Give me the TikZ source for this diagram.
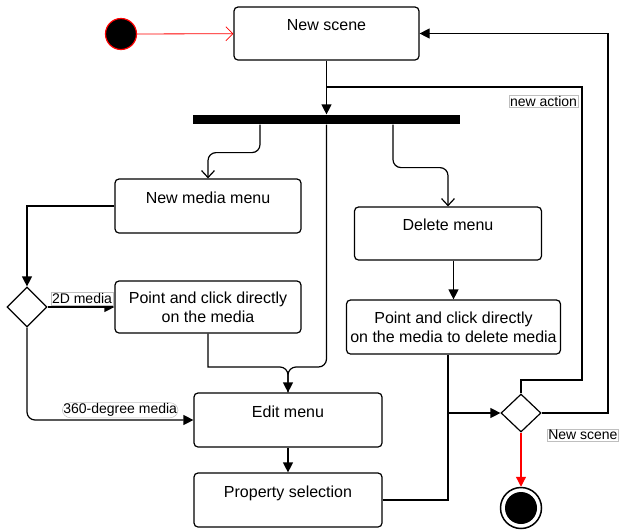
\documentclass[tikz,border=0pt]{standalone}
\usepackage{fontspec}
\setmainfont{Liberation Sans}
\usetikzlibrary{arrows.meta, shapes.geometric}

\begin{document}
\begin{tikzpicture}[x=1pt, y=-1pt, line width=1.2pt,
  activity/.style={draw, rounded corners=4pt, inner sep=0pt, align=center,
    font=\fontsize{16}{19}\selectfont},
  toptext/.style={text height=12pt, text depth=18pt},
  decision/.style={diamond, draw, minimum width=40pt, minimum height=40pt, inner sep=0pt},
  guard/.style={draw=black!25, line width=0.5pt, fill=white, inner sep=1pt,
    font=\fontsize{14}{16}\selectfont},
  flow/.style={-{Triangle[length=10pt,width=10pt]}},
  fork/.style={-{Straight Barb[length=7pt,width=13pt]}, rounded corners=8pt}]
\useasboundingbox (0,0) rectangle (619,531);

\node[circle, draw=red, fill=black, minimum size=31pt, inner sep=0pt] (start) at (121,34) {};
\node[activity, toptext, minimum width=185pt, minimum height=53pt] (scene) at (326.5,33.5) {New scene};
\node[fill=black, minimum width=267pt, minimum height=9pt, inner sep=0pt] (bar) at (326.5,119.5) {};
\node[activity, toptext, minimum width=186pt, minimum height=54pt] (media) at (208,206) {New media menu};
\node[activity, toptext, minimum width=187pt, minimum height=53pt] (delete) at (448,233.5) {Delete menu};
\node[decision] (branch) at (27,307) {};
\node[activity, minimum width=186pt, minimum height=52pt] (pick) at (208,307) {Point and click directly\\on the media};
\node[activity, minimum width=214pt, minimum height=54pt] (erase) at (453.5,327) {Point and click directly\\on the media to delete media};
\node[activity, toptext, minimum width=188pt, minimum height=54pt] (edit) at (288,420) {Edit menu};
\node[activity, toptext, minimum width=188pt, minimum height=54pt] (prop) at (288,500) {Property selection};
\node[decision, minimum height=38pt] (merge) at (521,413) {};
\node[circle, draw, line width=1.5pt, minimum size=41pt, inner sep=0pt] (stop) at (521,508) {};
\node[circle, fill=black, minimum size=32pt, inner sep=0pt] (stopdot) at (stop) {};

\coordinate (split) at (326.5,87);
\coordinate (meet) at (288,367);

% start and loop back
\draw[red, line width=0.8pt, -{Straight Barb[length=7pt,width=14pt]}] (start) -- (scene);
\draw[flow] (scene) -- (bar);
\draw (merge.north) |- (582,380) |- (split);
\node[guard] (newaction) at (543.5,101) {new action};
\draw[flow] (merge.east) -- (608,413) |- (scene.east);
\node[guard, anchor=west] (newscene) at (547,435) {New scene};

% fork
\draw[fork] ([xshift=-66.5pt]bar.south) -- ++(0,28) -| (media.north);
\draw[fork] ([xshift=66.5pt]bar.south) -- ++(0,43) -| (delete.north);
\draw[flow, rounded corners=8pt] (bar.south) |- (meet) -- (edit.north);

% media branch
\draw[flow] (media.west) -| (branch.north);
\draw[flow] (branch.east) -- node[guard, above=2pt, xshift=1pt] (twod) {2D media} (pick.west);
\draw[flow, rounded corners=8pt] (branch.south) |- node[guard, pos=0.78, above=2pt] (threesixty) {360-degree media} (edit.west);
\draw (pick.south) -- (pick.south |- meet) [rounded corners=8pt] -- (meet) -- (edit.north);
\draw[flow] (edit) -- (prop);

% delete branch
\draw[flow] (erase.north |- delete.south) -- (erase.north);
\draw[flow] (delete.south |- erase.south) |- (merge.west);
\draw (prop.east) -| (delete.south |- merge.west);
\draw[red, flow] (merge) -- (stop);
\end{tikzpicture}
\end{document}
